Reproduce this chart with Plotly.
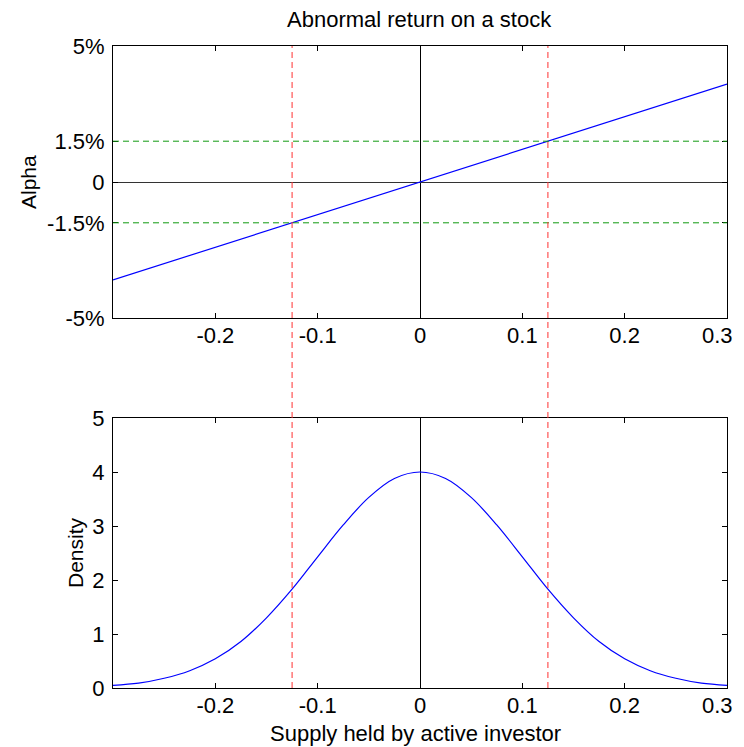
import plotly.graph_objects as go
from plotly.subplots import make_subplots

# Data
alpha_x = [-0.3, 0.0, 0.3]
alpha_pct = [-3.6, 0.0, 3.6]

density_x = [-0.3, -0.275, -0.25, -0.225, -0.2, -0.175, -0.15, -0.125, -0.1, -0.075,
             -0.05, -0.025, 0.0, 0.025, 0.05, 0.075, 0.1, 0.125, 0.15, 0.175,
             0.2, 0.225, 0.25, 0.275, 0.3]
density_y = [0.05, 0.09, 0.18, 0.32, 0.54, 0.86, 1.30, 1.83, 2.43, 3.02,
             3.53, 3.88, 4.00, 3.88, 3.53, 3.02, 2.43, 1.83, 1.30, 0.86,
             0.54, 0.32, 0.18, 0.09, 0.05]

cutoffs = [-0.125, 0.125]
alpha_bands = [-1.5, 1.5]

x_ticks = [-0.2, -0.1, 0, 0.1, 0.2, 0.3]
x_ticktext = ["-0.2", "-0.1", "0", "0.1", "0.2", ""]   # last label drawn as annotation
last_x_label = "0.3"
alpha_ticks = [-5, -1.5, 0, 1.5, 5]
alpha_ticktext = ["-5%", "-1.5%", "0", "1.5%", "5%"]
density_ticks = [0, 1, 2, 3, 4, 5]

# page has an 8px body margin
OFF = 8
FW, FH = 744 - OFF, 747 - OFF
FONT = "Liberation Sans, Arial, sans-serif"
TICKSIZE = 22


def px_x(p):
    return (p - OFF) / FW


def px_y(p):
    return 1 - (p - OFF) / FH


fig = make_subplots(rows=2, cols=1)

fig.add_trace(go.Scatter(x=alpha_x, y=alpha_pct, mode="lines",
                         line=dict(color="#0000ff", width=1.2), showlegend=False), row=1, col=1)
fig.add_trace(go.Scatter(x=density_x, y=density_y, mode="lines",
                         line=dict(color="#0000ff", width=1.2, shape="spline"),
                         showlegend=False), row=2, col=1)

xdom = [px_x(113), px_x(727)]
top_dom = [px_y(318), px_y(46)]
bot_dom = [px_y(688), px_y(418)]

axis_common = dict(showline=True, linecolor="black", linewidth=1, mirror="ticks",
                   ticks="inside", ticklen=5, tickcolor="black", showgrid=False,
                   tickfont=dict(family=FONT, size=TICKSIZE, color="black"))

fig.update_xaxes(range=[-0.3, 0.3], tickvals=x_ticks, ticktext=x_ticktext,
                 zeroline=True, zerolinecolor="black", zerolinewidth=0.6,
                 domain=xdom, ticklabelstandoff=-2, **axis_common)
fig.update_yaxes(range=[-5, 5], tickvals=alpha_ticks, ticktext=alpha_ticktext,
                 zeroline=True, zerolinecolor="#333333", zerolinewidth=1.2,
                 domain=top_dom, ticklabelstandoff=3, row=1, col=1, **axis_common)
fig.update_yaxes(range=[0, 5], tickvals=density_ticks, zeroline=False,
                 domain=bot_dom, ticklabelstandoff=3, row=2, col=1, **axis_common)

shapes = []
for a in alpha_bands:
    shapes.append(dict(type="line", xref="x", yref="y", x0=-0.3, x1=0.3, y0=a, y1=a,
                       line=dict(color="#109a10", width=1, dash="6px,4px")))
for c in cutoffs:
    shapes.append(dict(type="line", xref="x", yref="paper", x0=c, x1=c,
                       y0=bot_dom[0], y1=top_dom[1],
                       line=dict(color="#ff3030", width=1, dash="6px,4px")))
fig.update_layout(shapes=shapes)

annotations = [
    dict(text="Abnormal return on a stock", x=px_x(419), y=px_y(20), xref="paper", yref="paper",
         xanchor="center", yanchor="middle",
         showarrow=False, font=dict(family=FONT, size=22, color="black")),
    dict(text="Alpha", x=px_x(28), y=px_y(182), xref="paper", yref="paper", textangle=-90,
         xanchor="center", yanchor="middle",
         showarrow=False, font=dict(family=FONT, size=21, color="black")),
    dict(text="Density", x=px_x(75), y=px_y(553), xref="paper", yref="paper", textangle=-90,
         xanchor="center", yanchor="middle",
         showarrow=False, font=dict(family=FONT, size=21, color="black")),
    dict(text="Supply held by active investor", x=px_x(415), y=px_y(733), xref="paper", yref="paper",
         xanchor="center", yanchor="middle",
         showarrow=False, font=dict(family=FONT, size=22, color="black")),
]
for yref in ["y domain", "y2 domain"]:
    annotations.append(dict(text=last_x_label, x=px_x(735), y=0, xref="paper", yref=yref,
                            xanchor="right", yanchor="top", yshift=-3, showarrow=False,
                            font=dict(family=FONT, size=TICKSIZE, color="black")))
fig.update_layout(annotations=annotations)

fig.update_layout(width=FW, height=FH,
                  margin=dict(l=0, r=0, t=0, b=0, pad=0, autoexpand=False),
                  plot_bgcolor="white", paper_bgcolor="white", showlegend=False)

fig.write_html("out.html", config={"responsive": False})
